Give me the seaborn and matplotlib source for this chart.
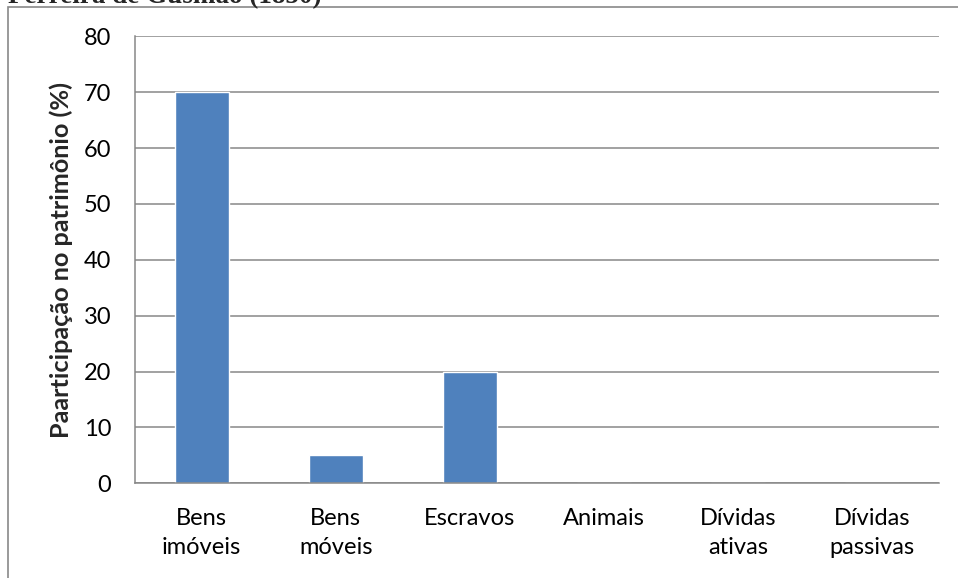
import matplotlib
matplotlib.use("Agg")
import matplotlib.pyplot as plt
import seaborn as sns
import pandas as pd
from matplotlib.patches import Rectangle

categories = ["Bens\nimóveis", "Bens\nmóveis", "Escravos", "Animais", "Dívidas\nativas", "Dívidas\npassivas"]
values = [70, 5, 20, 0, 0, 0]
y_ticks = [0, 10, 20, 30, 40, 50, 60, 70, 80]
y_label = "Paarticipação no patrimônio (%)"
title_text = "Ferreira de Gusmão (1850)"

sns.set_style("white")
plt.rcParams["font.family"] = ["Lato", "DejaVu Sans"]

W, H = 958, 578
fig = plt.figure(figsize=(W / 100, H / 100), dpi=100)
left, right, top, bottom = 134.7, 939.3, 36.3, 483.3
ax = fig.add_axes([left / W, 1 - bottom / H, (right - left) / W, (bottom - top) / H])

df = pd.DataFrame({"cat": categories, "val": values})
sns.barplot(data=df, x="cat", y="val", color="#4F81BD", saturation=1, width=0.4, ax=ax, zorder=3)

ax.set_ylim(0, 80)
ax.set_yticks(y_ticks)
ax.set_xlim(-0.5, len(categories) - 0.5)
ax.yaxis.grid(True, color="#878787", linewidth=1.1, zorder=0)
ax.set_axisbelow(True)
for s in ["top", "right"]:
    ax.spines[s].set_visible(False)
for s in ["left", "bottom"]:
    ax.spines[s].set_color("#878787")
    ax.spines[s].set_linewidth(1.1)
    ax.spines[s].set_zorder(4)
ax.tick_params(axis="both", length=0, labelsize=17, colors="black")
ax.tick_params(axis="y", pad=17)
ax.tick_params(axis="x", pad=18)
for lab in ax.get_xticklabels():
    lab.set_linespacing(1.45)
ax.set_xlabel("")
ax.set_ylabel(y_label, fontsize=18.2, fontweight="bold")
ax.yaxis.set_label_coords((72.7 - left) / (right - left), 0.5)

# outer chart frame (clipped by figure edge)
fig.patches.append(Rectangle((8 / W, -0.1), 1.2, 1 - 7.5 / H + 0.1, transform=fig.transFigure,
                             fill=False, edgecolor="#898989", linewidth=1.2))
fig.text(8 / W, 1 - 3.5 / H, title_text, family="Liberation Serif", fontweight="bold",
         fontsize=19.5, va="baseline", ha="left")

fig.savefig("out.png", dpi=100)
